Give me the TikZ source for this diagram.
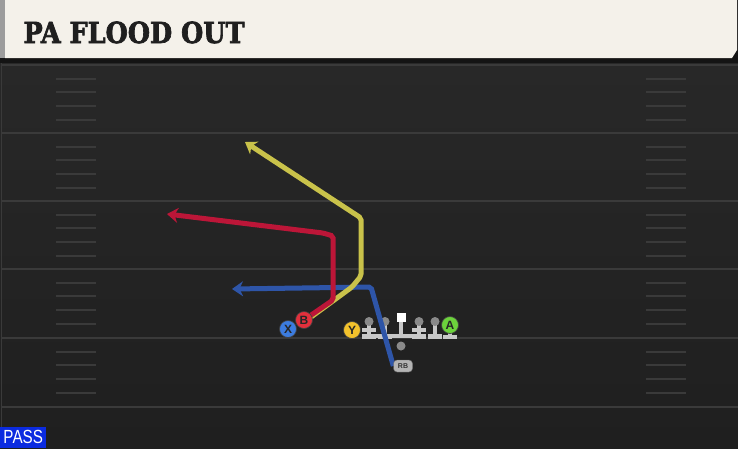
\documentclass[tikz,border=0pt]{standalone}
\usepackage{fontspec}
\setsansfont{Liberation Sans}
\newfontfamily\playfont{DejaVu Serif}[FakeBold=2.5]
\usetikzlibrary{shapes, arrows.meta}

\definecolor{hdr}{HTML}{F4F1EA}
\definecolor{hdrside}{HTML}{9C9C9C}
\definecolor{fieldtop}{HTML}{282828}
\definecolor{fieldbot}{HTML}{1F1F1F}
\definecolor{yardln}{HTML}{3A3A3A}
\definecolor{hashln}{HTML}{3A3A3A}
\definecolor{xblue}{HTML}{3C7CDF}
\definecolor{bred}{HTML}{E2303C}
\definecolor{yyel}{HTML}{F3C22C}
\definecolor{agrn}{HTML}{6CD33C}
\definecolor{routeblue}{HTML}{2E55A8}
\definecolor{routered}{HTML}{BC1638}
\definecolor{routeyel}{HTML}{C9C24A}
\definecolor{linegray}{HTML}{C8C8C8}
\definecolor{headgray}{HTML}{8A8A8A}
\definecolor{passblue}{HTML}{0B2BE0}

\pgfdeclarelayer{field}
\pgfdeclarelayer{routes}
\pgfsetlayers{field,routes,main}

\begin{document}
\begin{tikzpicture}[x=1pt, y=-1pt,
	yard/.style={draw=yardln, line width=2pt},
	hash/.style={draw=hashln, line width=1.6pt},
	route/.style={line width=5pt, rounded corners=2pt, -{Stealth[length=11pt, width=15pt, inset=3.5pt]}},
	player/.style={circle, draw=black!75, line width=0.7pt, minimum size=17pt, inner sep=0pt, font=\sffamily\bfseries\fontsize{12}{12}\selectfont, text=black!85}]
		\useasboundingbox (0,0) rectangle (738,448);
		\begin{pgfonlayer}{field}
		% field and header
		\fill[black!92] (0,0) rectangle (738,448);
		\shade[top color=fieldtop, bottom color=fieldbot] (0,63) rectangle (738,448);
		\draw[yardln, line width=1.5pt] (1.5,63) -- (1.5,448);
		\fill[hdrside] (0,0) rectangle (5,58);
		\fill[hdr] (5,0) -- (737,0) -- (737,50) -- (732,58) -- (5,58) -- cycle;
		\foreach \yl in {65,133,201,269,338,407}
			\draw[yard] (2,\yl) -- (738,\yl);
		\foreach \yl in {65,133,201,269,338}
			\foreach \d in {14,27,41,55} {
				\draw[hash] (56,\yl+\d) -- (96,\yl+\d);
				\draw[hash] (646,\yl+\d) -- (686,\yl+\d);
			}
		% line
		\fill[linegray] (375,334) rectangle (426,338);
		\foreach \lx in {369,419} \fill[linegray] (\lx-7,328) rectangle (\lx+7,331.5);
		\foreach \lx in {369,385,419,435} {
			\fill[linegray] (\lx-2,324) rectangle (\lx+2,337);
			\fill[linegray] (\lx-7,334) rectangle (\lx+7,338.5);
			\fill[headgray] (\lx,321.5) circle[radius=4.5pt];
		}
		\fill[linegray] (399,320) rectangle (403,336);
		\fill[white] (396.5,313) rectangle (405.5,322);
		\fill[linegray] (448,332) rectangle (452,337);
		\fill[linegray] (443,335) rectangle (457,338.5);
		\end{pgfonlayer}

		\node[anchor=base west, text=black!88, font=\playfont\bfseries\fontsize{29}{29}\selectfont] (title) at (20,43) {\scalebox{0.88}[1]{PA FLOOD OUT}};
		\node[anchor=south west, fill=passblue, text=white, inner sep=0pt, minimum width=46pt, minimum height=21pt, font=\sffamily\fontsize{19}{19}\selectfont] (pass) at (0,448) {\scalebox{0.8}[1]{PASS}};

		\node[player, fill=xblue] (x) at (288,329) {X};
		\node[player, fill=bred] (b) at (304,320) {B};
		\node[player, fill=yyel] (y) at (352,330) {Y};
		\node[player, fill=agrn] (a) at (450,325) {A};
		\node[circle, fill=headgray, minimum size=9pt, inner sep=0pt] (qb) at (401,346) {};
		\node[rectangle, rounded corners=3.5pt, fill=linegray!90!black, draw=black!60, line width=0.4pt, minimum width=19pt, minimum height=12pt, inner sep=0pt, text=black!80, font=\sffamily\bfseries\fontsize{7}{7}\selectfont] (rb) at (403,366) {RB};

		\coordinate (blueend) at (232,289);
		\coordinate (redend) at (167,214);
		\coordinate (yelend) at (245,142);
		\begin{pgfonlayer}{routes}
		\draw[route, routeblue] (rb.west) -- (371,287) -- (blueend);
		\draw[route, routeyel] ([xshift=3pt]b.center) -- (352,287) -- (361,276) -- (361,218) -- (yelend);
		\draw[route, routered] (b.center) -- (333,300) -- (333,236) -- (323,233) -- (redend);
		\end{pgfonlayer}
\end{tikzpicture}
\end{document}
